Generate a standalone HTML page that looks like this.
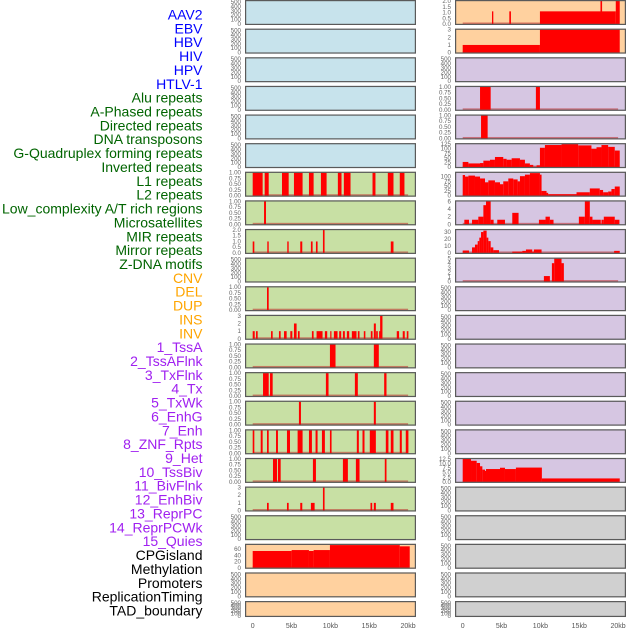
<!DOCTYPE html>
<html><head><meta charset="utf-8">
<style>
html,body{margin:0;padding:0;background:#fff;}
body{width:630px;height:630px;overflow:hidden;position:relative;font-family:"Liberation Sans",sans-serif;}
svg{position:absolute;left:0;top:0;}
</style></head>
<body>
<svg id="chart" width="630" height="630" viewBox="0 0 630 630"></svg>
<script>
// Track labels (left column) and colours
const labels = ["AAV2","EBV","HBV","HIV","HPV","HTLV-1","Alu repeats","A-Phased repeats","Directed repeats","DNA transposons","G-Quadruplex forming repeats","Inverted repeats","L1 repeats","L2 repeats","Low_complexity A/T rich regions","Microsatellites","MIR repeats","Mirror repeats","Z-DNA motifs","CNV","DEL","DUP","INS","INV","1_TssA","2_TssAFlnk","3_TxFlnk","4_Tx","5_TxWk","6_EnhG","7_Enh","8_ZNF_Rpts","9_Het","10_TssBiv","11_BivFlnk","12_EnhBiv","13_ReprPC","14_ReprPCWk","15_Quies","CPGisland","Methylation","Promoters","ReplicationTiming","TAD_boundary"];
const labelGroups = [[6,"#0000ff"],[13,"#006400"],[5,"#ffa500"],[15,"#a020f0"],[5,"#000000"]];

// Panel background groups per column (count, colour)
const leftBg = [[6,"#c7e3ec"],[13,"#c8e0a4"],[3,"#ffd19f"]];
const rightBg = [[2,"#ffd19f"],[15,"#d6c6e2"],[5,"#d0d0d0"]];

// Y tick label sets
const ticksEmpty = ["0","100","200","300","400","500"];
const ticks1 = ["0.00","0.25","0.50","0.75","1.00"];
const ticks2 = ["0.0","0.5","1.0","1.5","2.0"];
const ticks3 = ["0","1","2","3"];
const ticks6 = ["0","2","4","6"];
const ticks30 = ["0","10","20","30"];
const ticks5 = ["0","1","2","3","4","5"];
const ticks125 = ["0","25","50","75","100","125"];
const ticks100 = ["0","25","50","75","100"];
const ticks12 = ["0.0","2.5","5.0","7.5","10.0","12.5"];
const ticks60 = ["0","20","40","60"];

// Segments [startKb, endKb, value]
const segL1 = [[0,1.28,1],[1.54,2.06,1],[3.77,4.63,1],[5.31,6.42,1],[7.24,7.84,1],[8.78,9.51,1],[10.96,11.43,1],[11.73,12.59,1],[15.42,15.8,1],[17.39,18.12,1],[18.93,19.53,1]];
const segL2 = [[1.46,1.71,1]];
const segDirected = [[0,0.21,1],[1.88,2.06,1],[4.45,4.63,1],[6.12,6.38,1],[7.49,7.71,1],[8.14,8.35,1],[9.04,9.25,2],[17.77,18.12,1]];
const segGquad = [[1.84,2.06,1]];
const segInverted = [[0,0.26,1],[0.43,0.64,1],[2.36,2.57,1],[3.38,3.6,1],[4.03,4.37,1],[4.84,5.1,1],[5.31,5.65,2],[5.82,6.04,1],[7.62,7.84,1],[8.22,8.99,1],[9.29,9.59,1],[9.98,10.1,1],[10.45,10.92,1],[11.13,11.39,1],[11.61,11.86,1],[12.12,12.42,1],[12.76,13.36,1],[13.53,13.75,1],[14.3,14.5,1],[15.2,15.42,1],[15.59,15.85,2],[15.89,16.1,1],[16.27,16.45,1],[16.4,16.7,3],[18.54,18.84,1],[19.31,19.57,1],[19.83,20.04,1]];
const segRow12 = [[9.94,10.66,1],[15.59,16.23,1]];
const segRow13 = [[1.33,2.06,1],[2.23,2.57,1],[9.42,9.76,1],[13.15,13.53,1],[16.92,17.22,1]];
const segRow14 = [[5.95,6.21,1],[15.59,15.85,1]];
const segRow15 = [[0,0.21,1],[1.03,1.28,1],[1.84,2.06,1],[3.0,3.25,1],[4.41,4.8,1],[5.78,6.42,1],[7.24,7.62,1],[8.09,8.35,1],[8.91,9.29,1],[9.94,10.15,1],[13.4,13.66,1],[14.13,14.39,1],[15.07,15.85,1],[17.13,17.47,1],[17.77,18.12,1],[18.93,19.19,1],[19.7,20.04,1]];
const segRow16 = [[2.61,3.13,1],[3.25,3.6,1],[7.75,8.14,1],[11.61,12.25,1],[13.28,13.75,1],[17.0,17.22,1]];
const segRow17 = [[1.84,2.06,1],[4.41,4.63,1],[6.12,6.38,1],[7.49,7.97,1],[9.04,9.25,3],[15.16,15.38,1],[15.59,15.85,1],[17.77,18.12,1]];
const segCNV = [[0,5.01,54],[5.01,7.24,57],[7.24,7.84,54],[7.84,9.94,57],[9.94,18.93,73],[18.93,20.21,69]];
const segINS = [[3.77,3.94,1.1],[6.0,6.21,1.1],[9.94,19.7,1.1],[17.73,17.94,2],[19.7,20.21,2]];
const segINV = [[0,9.94,1],[9.94,20.21,3]];
const segTssAFlnk = [[2.23,3.6,1],[9.42,9.94,1]];
const segTxFlnk = [[2.36,3.21,1]];
const segTx = [[0,0.73,28],[0.73,2.23,20],[2.23,2.66,22],[2.66,3.51,35],[3.51,4.15,40],[4.15,5.22,55],[5.22,5.65,45],[5.65,6.3,40],[6.3,7.37,48],[7.37,8.01,40],[8.01,8.65,20],[8.65,9.08,12],[9.08,9.51,2],[9.51,9.94,10],[9.94,10.58,105],[10.58,12.72,120],[12.72,14.86,125],[14.86,16.57,118],[16.57,17.22,100],[17.22,17.86,108],[17.86,18.72,120],[18.72,19.57,110],[19.57,20.21,90]];
const segTxWk = [[0,0.3,108],[0.3,0.73,100],[0.73,1.58,105],[1.58,2.23,100],[2.23,2.87,90],[2.87,3.3,70],[3.3,4.15,80],[4.15,4.8,70],[4.8,5.22,60],[5.22,5.87,75],[5.87,6.51,90],[6.51,7.07,85],[7.07,7.37,75],[7.37,8.01,102],[8.01,8.65,110],[8.65,9.94,118],[9.94,10.15,110],[10.15,10.79,25],[10.79,11.0,15],[11.0,14.65,8],[14.65,16.36,18],[16.36,17.64,38],[17.64,18.07,30],[18.07,18.72,18],[18.72,19.14,22],[19.14,19.57,35],[19.57,20.21,48]];
const segEnhG = [[0.21,0.81,1.2],[1.2,2.01,1.2],[2.01,2.66,2],[2.66,3.0,5],[3.0,3.6,6],[3.6,3.98,1.2],[4.45,5.44,1.2],[6.38,7.19,3],[9.81,10.66,1.2],[10.66,11.22,2],[11.22,11.69,1.2],[14.95,15.72,2],[15.72,16.36,6],[16.36,16.7,2],[16.7,17.77,1.2],[17.86,18.16,1.2],[18.16,19.57,2],[19.57,20.17,1.2]];
const segEnh = [[0,0.81,3.5],[1.2,1.58,8],[1.58,1.93,12],[1.93,2.14,17],[2.14,2.36,22],[2.36,2.66,30],[2.66,3.08,32],[3.08,3.3,22],[3.3,3.6,17],[3.6,3.94,8],[3.94,4.67,4],[6.38,7.67,2],[7.67,8.14,3],[8.14,8.95,5],[8.95,9.16,2],[9.16,10.15,5],[19.49,20.21,3]];
const segZNF = [[10.45,11.22,1.2],[11.48,11.78,4],[11.78,12.72,5],[12.72,13.02,4]];
const segTssBiv = [[0,1.07,12.5],[1.07,1.8,11.5],[1.8,2.23,10.3],[2.23,2.53,8.5],[2.53,2.87,6.7],[2.87,3.0,6],[3.0,4.8,7],[4.8,5.44,7.7],[5.44,6.85,7],[6.85,10.19,7.8],[10.19,20.21,1.9]];

// Per-row definitions: [ymax, ticks, segments]
const leftRows = [
 [500,ticksEmpty,[]],[500,ticksEmpty,[]],[500,ticksEmpty,[]],[500,ticksEmpty,[]],[500,ticksEmpty,[]],[500,ticksEmpty,[]],
 [1,ticks1,segL1],[1,ticks1,segL2],[2,ticks2,segDirected],[500,ticksEmpty,[]],[1,ticks1,segGquad],[3,ticks3,segInverted],
 [1,ticks1,segRow12],[1,ticks1,segRow13],[1,ticks1,segRow14],[1,ticks1,segRow15],[1,ticks1,segRow16],[3,ticks3,segRow17],
 [500,ticksEmpty,[]],[74,ticks60,segCNV],[500,ticksEmpty,[]],[500,ticksEmpty,[]]
];
const rightRows = [
 [2,ticks2,segINS],[3,ticks3,segINV],[500,ticksEmpty,[]],[1,ticks1,segTssAFlnk],[1,ticks1,segTxFlnk],
 [125,ticks125,segTx],[120,ticks100,segTxWk],[6,ticks6,segEnhG],[33,ticks30,segEnh],[5,ticks5,segZNF],
 [500,ticksEmpty,[]],[500,ticksEmpty,[]],[500,ticksEmpty,[]],[500,ticksEmpty,[]],[500,ticksEmpty,[]],[500,ticksEmpty,[]],
 [12.5,ticks12,segTssBiv],[500,ticksEmpty,[]],[500,ticksEmpty,[]],[500,ticksEmpty,[]],[500,ticksEmpty,[]],[500,ticksEmpty,[]]
];
const xTicks = [0,5,10,15,20];
const xTickLabels = ["0","5kb","10kb","15kb","20kb"];

const NS = "http://www.w3.org/2000/svg";
const svg = document.getElementById("chart");
function mk(tag, attrs, parent){
  const e = document.createElementNS(NS, tag);
  for (const k in attrs) e.setAttribute(k, attrs[k]);
  (parent||svg).appendChild(e);
  return e;
}
const PX_PER_KB = 7.77;
function rowTop(r){ return r*28.62; }
function rowH(r){ return r===21 ? 16 : 25; }

// Labels
let li = 0;
labelGroups.forEach(([n, col]) => {
  for (let j=0;j<n;j++){
    const t = mk("text",{x:202.5,y:19.5+li*13.86,"text-anchor":"end","font-size":"14",fill:col,"font-family":"Liberation Sans, sans-serif"});
    t.textContent = labels[li];
    
    
    li++;
  }
});

function bgColor(groups, r){
  let c = 0;
  for (const [n,col] of groups){ if (r < c+n) return col; c += n; }
  return "#ccc";
}

function drawColumn(rows, bgGroups, panelX, zeroX, side){
  rows.forEach((row, r) => {
    const [ymax, ticks, segs] = row;
    const top = rowTop(r), h = rowH(r), bottom = top + h;
    const g = mk("g",{});
    
    
    const bg = mk("rect",{x:panelX,y:top,width:171,height:h,fill:bgColor(bgGroups,r)},g);
    
    
    const ys = v => bottom - 1 - (v/ymax)*(h-2);
    const xs = kb => zeroX + kb*PX_PER_KB;
    if (segs.length) {
      const bl = mk("rect",{x:xs(0),y:bottom-2.5,width:20*PX_PER_KB,height:2,fill:"rgba(190,40,40,0.55)"},g);
      
      
    }
    segs.forEach(s => {
      const x0 = xs(s[0]), x1 = xs(s[1]);
      const y = ys(s[2]);
      const b = mk("rect",{x:x0,y:y,width:Math.max(1.2,x1-x0),height:bottom-1-y,fill:"#ff0000"},g);
      
      
    });
    mk("rect",{x:panelX+0.6,y:top+0.6,width:169.8,height:h-1.2,fill:"none",stroke:"#5a5a5a","stroke-width":"1.2"},g);
    ticks.forEach((lab) => {
      const v = parseFloat(lab);
      const yy = ymax===500 ? bottom - 1 - (v/500)*(h-3) : ys(v);
      const t = mk("text",{x:panelX-4,y:yy+2,"text-anchor":"end","font-size":"6.2",fill:"#666","font-family":"Liberation Sans, sans-serif"},g);
      t.textContent = lab;
      
      
    });
  });
  xTicks.forEach((kb,i) => {
    const t = mk("text",{x:zeroX+kb*PX_PER_KB,y:628,"text-anchor":"middle","font-size":"7",fill:"#555","font-family":"Liberation Sans, sans-serif"});
    t.textContent = xTickLabels[i];
    
    
  });
}
drawColumn(leftRows, leftBg, 245, 252.7, "left");
drawColumn(rightRows, rightBg, 455, 462.7, "right");
</script>
</body></html>
